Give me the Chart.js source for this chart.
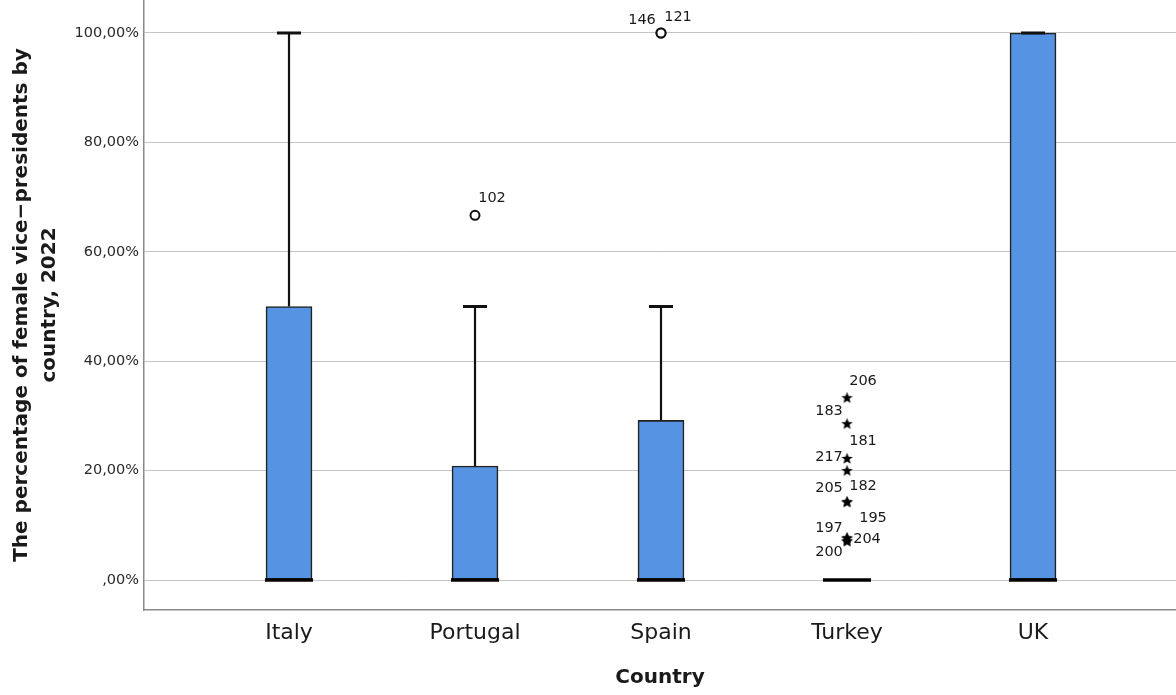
<!DOCTYPE html>
<html><head><meta charset="utf-8">
<script src="https://cdn.jsdelivr.net/npm/chart.js@4.4.0/dist/chart.umd.min.js"></script>
<style>html,body{margin:0;padding:0;background:#fff;overflow:hidden}</style>
</head><body>
<canvas id="c" width="1176" height="695"></canvas>
<script>
// ---- data ----
const categories = ['Italy', 'Portugal', 'Spain', 'Turkey', 'UK'];
const boxLow = [0, 0, 0, 0, 0];
const medians = [0, 0, 0, 0, 0];
const boxHigh = [50, 20.83, 29.17, 0, 100];
const whiskerHigh = [100, 50, 50, 0, 100];
const outlierCategory = ['Portugal', 'Spain', 'Spain'];
const outlierValues = [66.67, 100, 100];
const outlierIds = ['102', '146', '121'];
const extremeCategory = ['Turkey', 'Turkey', 'Turkey', 'Turkey', 'Turkey', 'Turkey', 'Turkey', 'Turkey', 'Turkey', 'Turkey'];
const extremeValues = [33.33, 28.57, 22.22, 20, 14.29, 14.29, 7.69, 7.69, 7.14, 7.14];
const extremeIds = ['206', '183', '181', '217', '205', '182', '197', '195', '204', '200'];
const yTicks = [0, 20, 40, 60, 80, 100];
const xTitle = 'Country';
const yTitle = ['The percentage of female vice\u2212presidents by', 'country, 2022'];

// ---- helpers ----
const catPos = c => categories.indexOf(c) + 1;
const FONT = '"DejaVu Sans", sans-serif';

// label placement (style: offsets of text centre from the point, px)
const labelOffsets = {
  '102': [17, -17], '146': [-19, -13], '121': [17, -16],
  '206': [16, -16], '183': [-18, -12], '181': [16, -17], '217': [-18, -13],
  '205': [-18, -14], '182': [16, -16], '197': [-18, -10], '195': [26, -20],
  '204': [20, -2], '200': [-18, 11]
};

// filled star point style
const star = document.createElement('canvas');
star.width = 13; star.height = 13;
(function () {
  const g = star.getContext('2d');
  g.fillStyle = '#000';
  g.beginPath();
  for (let k = 0; k < 10; k++) {
    const r = k % 2 === 0 ? 6 : 2.6;
    const a = -Math.PI / 2 + k * Math.PI / 5;
    const px = 6.5 + r * Math.cos(a), py = 6.8 + r * Math.sin(a);
    k === 0 ? g.moveTo(px, py) : g.lineTo(px, py);
  }
  g.closePath(); g.fill();
})();

const whiskerSets = [];
const capData = [];
categories.forEach((c, i) => {
  if (whiskerHigh[i] > boxHigh[i]) {
    whiskerSets.push({
      type: 'line', data: [{x: i + 1, y: boxHigh[i]}, {x: i + 1, y: whiskerHigh[i]}],
      borderColor: '#111', borderWidth: 2.2, pointRadius: 0, order: 5
    });
  }
  if (whiskerHigh[i] > boxLow[i]) capData.push({x: i + 1, y: whiskerHigh[i]});
});

const datasets = [
  ...whiskerSets,
  {
    type: 'bar', data: categories.map((c, i) => ({x: i + 1, y: [boxLow[i], boxHigh[i]]})),
    backgroundColor: '#5694e3', borderColor: '#222', borderWidth: 1.6, borderSkipped: false,
    barThickness: 46, grouped: false, order: 4
  },
  {
    type: 'line', data: capData, showLine: false,
    pointStyle: 'line', pointRadius: 12, pointBorderWidth: 3, pointBorderColor: '#111', order: 3
  },
  {
    type: 'line', data: categories.map((c, i) => ({x: i + 1, y: medians[i]})), showLine: false,
    pointStyle: 'line', pointRadius: 24, pointBorderWidth: 3.5, pointBorderColor: '#000', order: 2
  },
  {
    type: 'line', data: outlierValues.map((v, i) => ({x: catPos(outlierCategory[i]), y: v, id: outlierIds[i]})),
    showLine: false, pointStyle: 'circle', pointRadius: 4.5, pointBorderWidth: 2,
    pointBorderColor: '#111', pointBackgroundColor: '#fff', order: 1, clip: false
  },
  {
    type: 'line', data: extremeValues.map((v, i) => ({x: catPos(extremeCategory[i]), y: v, id: extremeIds[i]})),
    showLine: false, pointStyle: star, pointRadius: 6, order: 1
  }
];

const labelPlugin = {
  id: 'pointLabels',
  afterDatasetsDraw(chart) {
    const ctx = chart.ctx, xs = chart.scales.x, ys = chart.scales.y;
    ctx.save();
    ctx.font = '14.5px ' + FONT;
    ctx.fillStyle = '#1a1a1a';
    ctx.textAlign = 'center';
    ctx.textBaseline = 'middle';
    const draw = (cats, vals, ids) => vals.forEach((v, i) => {
      const off = labelOffsets[ids[i]] || [14, -14];
      ctx.fillText(ids[i], xs.getPixelForValue(catPos(cats[i])) + off[0], ys.getPixelForValue(v) + off[1]);
    });
    draw(outlierCategory, outlierValues, outlierIds);
    draw(extremeCategory, extremeValues, extremeIds);
    ctx.restore();
  },
  afterDraw(chart) {
    const ctx = chart.ctx, a = chart.chartArea;
    ctx.save();
    ctx.fillStyle = '#1a1a1a';
    ctx.font = 'bold 20px ' + FONT;
    ctx.textAlign = 'center';
    ctx.textBaseline = 'alphabetic';
    ctx.fillText(xTitle, (a.left + a.right) / 2, 683);
    ctx.textBaseline = 'middle';
    const cx = [22, 50];
    yTitle.forEach((t, k) => {
      ctx.save();
      ctx.translate(cx[k], (a.top + a.bottom) / 2);
      ctx.rotate(-Math.PI / 2);
      ctx.fillText(t, 0, 0);
      ctx.restore();
    });
    ctx.restore();
  }
};

new Chart(document.getElementById('c'), {
  type: 'bar',
  data: {datasets},
  options: {
    responsive: false, animation: false,
    layout: {padding: 0, autoPadding: false},
    plugins: {legend: {display: false}, tooltip: {enabled: false}},
    scales: {
      x: {
        type: 'linear', min: 0.2204, max: 5.7688, offset: false,
        grid: {display: false, drawTicks: false},
        border: {display: true, color: '#8a8a8a', width: 1.5},
        ticks: {
          autoSkip: false, maxRotation: 0, padding: 10, color: '#1a1a1a',
          font: {family: FONT, size: 22},
          callback: v => categories[v - 1] || ''
        },
        afterBuildTicks: s => { s.ticks = categories.map((c, i) => ({value: i + 1})); },
        afterFit: s => { s.height = 85; s.paddingLeft = 0; s.paddingRight = 0; }
      },
      y: {
        type: 'linear', min: -5.48, max: 106.03,
        grid: {color: '#c4c4c4', lineWidth: 1, drawTicks: false},
        border: {display: true, color: '#8a8a8a', width: 1.5},
        ticks: {
          padding: 5, color: '#2a2a2a', font: {family: FONT, size: 14.5},
          callback: v => (v === 0 ? ',00%' : v.toFixed(2).replace('.', ',') + '%')
        },
        afterBuildTicks: s => { s.ticks = yTicks.map(v => ({value: v})); },
        afterFit: s => { s.width = 144; s.paddingTop = 0; s.paddingBottom = 0; }
      }
    }
  },
  plugins: [labelPlugin]
});
</script>
</body></html>
